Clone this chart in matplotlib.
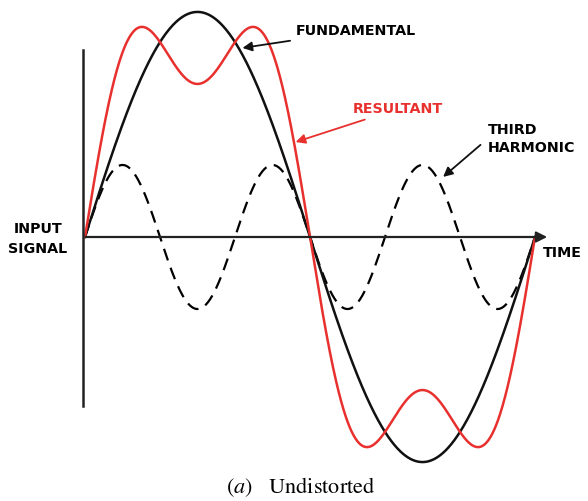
import numpy as np
import matplotlib.pyplot as plt

plt.rcParams["mathtext.fontset"] = "stix"

# values (amplitudes relative to the fundamental)
fund_amp = 1.0
third_amp = 0.32
third_order = 3
phase_deg = np.linspace(0, 360, 721)

labels = {
    "fund": "FUNDAMENTAL",
    "result": "RESULTANT",
    "third": "THIRD\nHARMONIC",
    "input": "INPUT\nSIGNAL",
    "time": "TIME",
}
caption = r"($\mathit{a}$)   Undistorted"

RED = "#e8312e"

fundamental = fund_amp * np.sin(np.radians(phase_deg))
third = third_amp * np.sin(third_order * np.radians(phase_deg))
resultant = fundamental + third

fig = plt.figure(figsize=(5.88, 5.01), dpi=100)
ax = fig.add_axes([0, 0, 1, 1])
ax.set_xlim(-68, 402.4)
ax.set_ylim(-1.173, 1.053)
ax.axis("off")

ax.plot(phase_deg, third, color="black", lw=1.6, ls=(0, (5.5, 3.5)))
ax.plot(phase_deg, fundamental, color="#111111", lw=1.8)
ax.plot(phase_deg, resultant, color=RED, lw=1.8)

# axes drawn by hand
ax.plot([-1.6, -1.6], [-0.751, 0.831], color="#222222", lw=1.8)
ax.annotate("", xy=(372, 0), xytext=(-1.6, 0),
            arrowprops=dict(arrowstyle="-|>", color="#222222", lw=1.6,
                            mutation_scale=16))

lab_font = dict(family="DejaVu Sans", weight="bold", fontsize=10.3)

ax.text(-37.6, -0.01, labels["input"], ha="center", va="center",
        multialignment="center", linespacing=1.5, **lab_font)
ax.text(366, -0.07, labels["time"], ha="left", va="center", **lab_font)

ax.annotate(labels["fund"], xy=(126, 0.84), xytext=(168.5, 0.916),
            ha="left", va="center", **lab_font,
            arrowprops=dict(arrowstyle="-|>", color="#111111", lw=1.3,
                            mutation_scale=14, shrinkA=2, shrinkB=0))
ax.annotate(labels["result"], xy=(168.5, 0.422), xytext=(214, 0.569),
            ha="left", va="center", color=RED, **lab_font,
            arrowprops=dict(arrowstyle="-|>", color=RED, lw=1.3,
                            mutation_scale=14, shrinkA=2, shrinkB=0))
ax.annotate(labels["third"], xy=(286.5, 0.267), xytext=(322, 0.436),
            ha="left", va="center", linespacing=1.3, **lab_font,
            arrowprops=dict(arrowstyle="-|>", color="#111111", lw=1.3,
                            mutation_scale=14, shrinkA=4, shrinkB=0,
                            relpos=(0, 0.5)))

ax.text(172.8, -1.111, caption, ha="center", va="center",
        fontsize=16, family="STIXGeneral")

fig.savefig("out.png", dpi=100, facecolor="white")
